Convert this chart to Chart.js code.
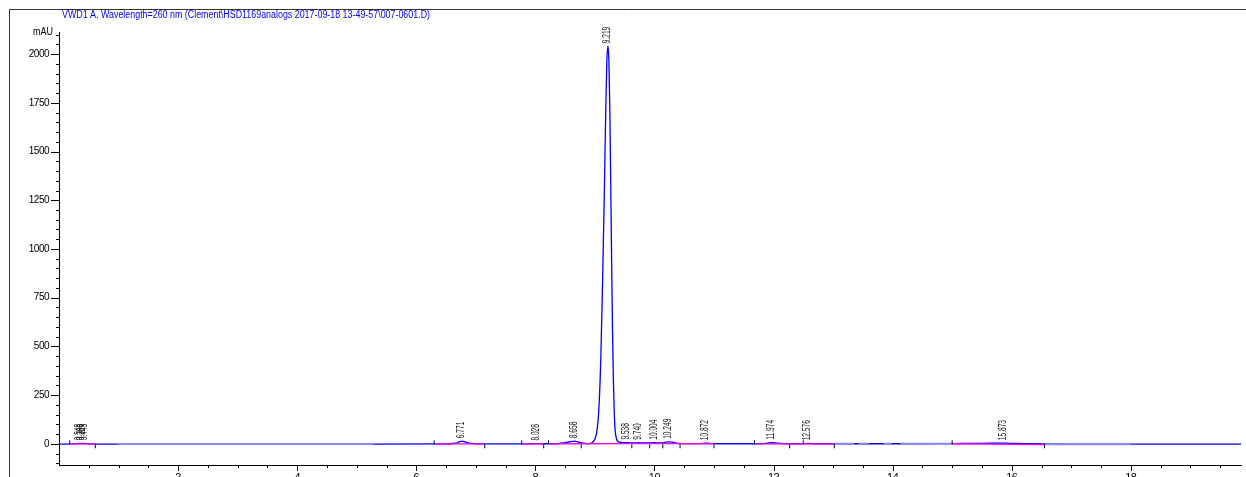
<!DOCTYPE html>
<html>
<head>
<meta charset="utf-8">
<script src="https://cdn.jsdelivr.net/npm/chart.js@4.4.1/dist/chart.umd.min.js"></script>
<style>
  html, body { margin: 0; padding: 0; background: #fff; overflow: hidden; }
  canvas { display: block; }
</style>
</head>
<body>
<canvas id="chrom" width="1246" height="477"></canvas>
<script>
const signalTitle = 'VWD1 A, Wavelength=260 nm (Clement\\HSD1169analogs 2017-09-18 13-49-57\\007-0601.D)';
const yUnit = 'mAU';

// Detector trace: retention time (min) and absorbance (mAU)
const rt = [
  0.00, 0.12, 0.18, 0.26, 0.31, 0.348, 0.37, 0.386, 0.41, 0.443, 0.49, 0.56, 0.65, 0.82,
  1.00, 2.00, 3.00, 4.00, 5.30, 6.30, 6.55, 6.66, 6.72, 6.771, 6.82, 6.89, 6.98, 7.15,
  7.80, 7.96, 8.028, 8.10, 8.22, 8.38, 8.48, 8.56, 8.62, 8.658, 8.70, 8.75, 8.80, 8.86,
  8.90, 8.95, 9.00, 9.04, 9.07, 9.10, 9.13, 9.16, 9.18, 9.20, 9.219, 9.235, 9.25, 9.265,
  9.28, 9.295, 9.31, 9.325, 9.34, 9.36, 9.39, 9.45, 9.50, 9.538, 9.60, 9.68, 9.74, 9.82,
  9.92, 10.004, 10.08, 10.16, 10.249, 10.32, 10.42, 10.55, 10.75, 10.872, 10.98, 11.30,
  11.70, 11.88, 11.974, 12.06, 12.25, 12.45, 12.576, 12.70, 13.00, 13.50, 14.00, 14.50,
  15.00, 15.50, 15.873, 16.20, 16.55, 17.20, 18.00, 19.00, 19.85
];
const mau = [
  -1, -1, 0, 1, 2, 3, 2, 3, 2, 3, 1, 0, -1, -1,
  -1, -0.5, -0.5, -0.5, -0.5, 0, 1, 4, 10, 14, 10, 4, 1, 0,
  0, 1, 2, 1, 1, 2, 5, 10, 13, 14, 12, 8, 4, 2,
  2, 6, 25, 80, 200, 450, 850, 1320, 1680, 1960, 2040, 1960, 1720, 1350,
  950, 600, 330, 160, 70, 28, 12, 8, 7, 7, 5, 5, 6, 5,
  5, 6, 5, 7, 11, 8, 3, 2, 2, 4, 2, 1,
  1, 3, 7, 4, 1, 1, 3, 1, 1, 1, 1, 1,
  2, 3, 4, 2, 0, -1, -1, -1, -1
];

// Integrated peaks: retention time (min) and apex height (mAU)
const peakRT = [0.348, 0.386, 0.443, 6.771, 8.028, 8.658, 9.219, 9.538, 9.740, 10.004, 10.249, 10.872, 11.974, 12.576, 15.873];
const peakHeight = [3, 3, 3, 14, 2, 14, 2040, 7, 6, 6, 11, 4, 7, 3, 4];

// Integration baselines under peaks: [t0, y0, t1, y1]
const integrationBase = [
  [0.18, 0, 0.61, 0], [6.30, 0, 7.15, 0], [7.77, 0, 8.14, 0], [8.22, 0, 8.77, 1],
  [8.77, 1, 9.62, 2], [9.62, 2, 9.92, 2], [9.92, 2, 10.14, 2], [10.14, 2, 10.43, 1],
  [10.43, 1, 11.00, 1], [11.68, 0, 12.27, 0], [12.27, 0, 13.02, 0], [15.00, 1, 16.55, -3]
];
// Baseline-tracking segments between peaks: [t0, y0, t1, y1]
const trackBase = [
  [0.99, -0.5, 5.28, -0.5], [13.02, 1, 13.35, 1], [13.43, 1, 13.60, 1],
  [13.85, 1, 13.98, 1], [14.13, 1, 14.99, 1], [16.55, -1, 18.00, -1]
];
// Peak start / end event marks (min)
const peakStart = [0.18, 6.30, 7.77, 8.22, 11.68, 12.50, 15.00];
const peakEnd = [0.61, 7.15, 8.14, 8.77, 9.62, 9.92, 10.14, 10.43, 11.00, 12.27, 13.02, 16.55];

// Axis ticks
const xLabels = [2, 4, 6, 8, 10, 12, 14, 16, 18];
const yLabels = [0, 250, 500, 750, 1000, 1250, 1500, 1750, 2000];
const X_MIN = 0, X_MAX = 19.85;
const Y_MIN = -108, Y_MAX = 2113;

const xMinor = [];
for (let v = 0.5; v <= X_MAX; v += 0.5) xMinor.push(v);
const yMinor = [];
for (let v = -100; v <= 2100; v += 50) yMinor.push(v);

function segmentsToData(segs) {
  const out = [];
  segs.forEach(s => {
    out.push({ x: s[0], y: s[1] }, { x: s[2], y: s[3] }, { x: s[2], y: null });
  });
  return out;
}

const TICK_FONT = { family: '"Liberation Sans", Arial, sans-serif', size: 10 };

// Outer frame, signal title and unit label
const frameAndText = {
  id: 'frameAndText',
  beforeDraw(chart) {
    const ctx = chart.ctx;
    ctx.save();
    ctx.strokeStyle = '#333';
    ctx.lineWidth = 1;
    ctx.beginPath();
    ctx.moveTo(9.5, 477);
    ctx.lineTo(9.5, 9.5);
    ctx.lineTo(1246, 9.5);
    ctx.stroke();

    ctx.font = '10px "Liberation Sans", Arial, sans-serif';
    ctx.textBaseline = 'middle';
    ctx.textAlign = 'left';
    ctx.fillStyle = '#0000ff';
    const w = ctx.measureText(signalTitle).width;
    ctx.save();
    ctx.translate(62, 15);
    ctx.scale(368 / w, 1);
    ctx.fillText(signalTitle, 0, 0);
    ctx.restore();

    ctx.fillStyle = '#000';
    ctx.textAlign = 'right';
    ctx.save();
    ctx.translate(53, 32);
    ctx.scale(0.9, 1);
    ctx.fillText(yUnit, 0, 0);
    ctx.restore();
    ctx.restore();
    ctx.letterSpacing = '-0.5px';
  }
};

// Major and minor tick marks on both axes
const axisTicks = {
  id: 'axisTicks',
  afterDraw(chart) {
    const { ctx, scales: { x, y }, chartArea: a } = chart;
    ctx.save();
    ctx.strokeStyle = '#000';
    ctx.lineWidth = 1;
    ctx.beginPath();
    yMinor.forEach(v => {
      const py = Math.round(y.getPixelForValue(v)) + 0.5;
      const len = yLabels.includes(v) ? 8 : 3;
      ctx.moveTo(a.left - len, py);
      ctx.lineTo(a.left, py);
    });
    xMinor.forEach(v => {
      const px = Math.round(x.getPixelForValue(v)) + 0.5;
      const len = xLabels.includes(v) ? 6 : 3;
      ctx.moveTo(px, a.bottom);
      ctx.lineTo(px, a.bottom + len);
    });
    ctx.stroke();
    ctx.restore();
  }
};

// Retention-time labels written vertically above each peak apex
const peakLabels = {
  id: 'peakLabels',
  afterDatasetsDraw(chart) {
    const { ctx, scales: { x, y } } = chart;
    ctx.save();
    ctx.letterSpacing = '0px';
    ctx.font = '11px "Liberation Sans", Arial, sans-serif';
    ctx.fillStyle = '#111';
    ctx.textAlign = 'left';
    ctx.textBaseline = 'middle';
    peakRT.forEach((t, i) => {
      const px = x.getPixelForValue(t) - 1;
      const py = Math.min(y.getPixelForValue(peakHeight[i]), y.getPixelForValue(0)) - 3;
      ctx.save();
      ctx.translate(px, py);
      ctx.rotate(-Math.PI / 2);
      ctx.scale(0.6, 1);
      ctx.fillText(t.toFixed(3), 0, 0);
      ctx.restore();
    });
    ctx.restore();
  }
};

new Chart(document.getElementById('chrom'), {
  type: 'scatter',
  data: {
    datasets: [
      {
        data: rt.map((t, i) => ({ x: t, y: mau[i] })),
        showLine: true,
        borderColor: '#0000ff',
        borderWidth: 1.3,
        pointRadius: 0,
        cubicInterpolationMode: 'monotone',
        order: 4
      },
      {
        data: segmentsToData(trackBase),
        showLine: true,
        spanGaps: false,
        borderColor: '#8a8aff',
        borderWidth: 2,
        pointRadius: 0,
        order: 3
      },
      {
        data: segmentsToData(integrationBase),
        showLine: true,
        spanGaps: false,
        borderColor: '#ff00ff',
        borderWidth: 1.3,
        pointRadius: 0,
        order: 2
      },
      {
        data: peakStart.map(t => ({ x: t, y: 8 })),
        showLine: false,
        pointStyle: 'line',
        rotation: 90,
        pointRadius: 2,
        borderColor: '#000',
        borderWidth: 1,
        order: 1
      },
      {
        data: peakEnd.map(t => ({ x: t, y: -12 })),
        showLine: false,
        pointStyle: 'line',
        rotation: 90,
        pointRadius: 2,
        borderColor: '#000',
        borderWidth: 1,
        order: 1
      }
    ]
  },
  options: {
    responsive: false,
    animation: false,
    devicePixelRatio: 1,
    layout: { padding: { top: 32, left: 0, right: 0, bottom: 0 } },
    plugins: { legend: { display: false }, tooltip: { enabled: false }, title: { display: false } },
    scales: {
      x: {
        type: 'linear',
        min: X_MIN,
        max: X_MAX,
        afterFit(s) { s.height = 12; s.paddingLeft = 0; s.paddingRight = 0; },
        afterBuildTicks(s) { s.ticks = xMinor.map(v => ({ value: v })); },
        grid: { display: false, drawTicks: false },
        border: { display: true, color: '#000', width: 1 },
        ticks: {
          padding: 6,
          autoSkip: false,
          maxRotation: 0,
          color: '#000',
          font: { family: TICK_FONT.family, size: 11 },
          callback: v => (xLabels.includes(v) ? String(v) : '')
        }
      },
      y: {
        type: 'linear',
        min: Y_MIN,
        max: Y_MAX,
        afterFit(s) { s.width = 59; s.paddingTop = 0; s.paddingBottom = 0; },
        afterBuildTicks(s) { s.ticks = yMinor.map(v => ({ value: v })); },
        grid: { display: false, drawTicks: false },
        border: { display: true, color: '#000', width: 1 },
        ticks: {
          padding: 10,
          autoSkip: false,
          color: '#000',
          font: TICK_FONT,
          callback: v => (yLabels.includes(v) ? String(v) : '')
        }
      }
    }
  },
  plugins: [frameAndText, axisTicks, peakLabels]
});
</script>
</body>
</html>
